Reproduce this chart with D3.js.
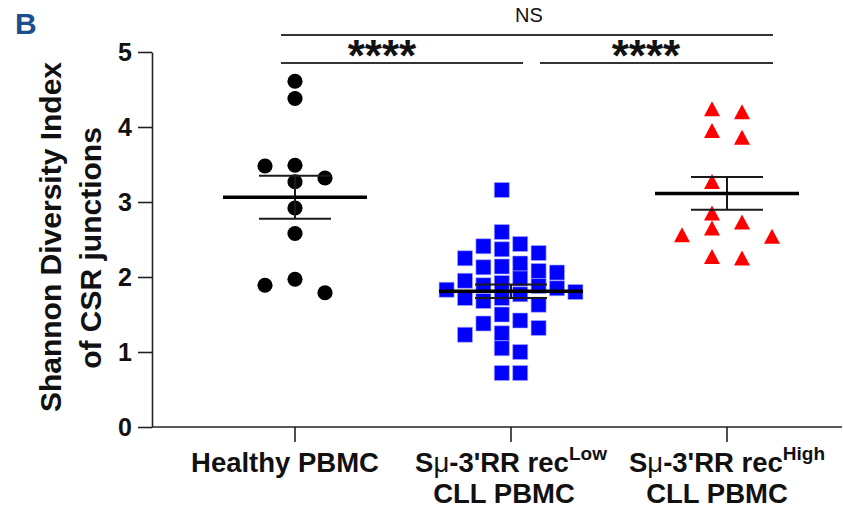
<!DOCTYPE html>
<html>
<head>
<meta charset="utf-8">
<script src="https://cdn.jsdelivr.net/npm/d3@7"></script>
<style>
  body { margin: 0; background: #fff; }
  svg { display: block; font-family: "Liberation Sans", Arial, Helvetica, sans-serif; }
</style>
</head>
<body>
<div id="chart"></div>
<script>
// data
const groups = ["healthy", "recLow", "recHigh"];
const labelMain = ["Healthy PBMC", "S\u03bc-3'RR rec", "S\u03bc-3'RR rec"];
const labelSup = ["", "Low", "High"];
const labelSecond = ["", "CLL PBMC", "CLL PBMC"];

const healthyValues = [4.61, 4.38, 3.49, 3.48, 3.32, 3.27, 2.92, 2.58, 1.97, 1.89, 1.79];
const recLowValues = [3.16, 2.60, 2.44, 2.41, 2.37, 2.32, 2.25, 2.18, 2.14, 2.13, 2.08, 2.06,
  1.98, 1.95, 1.92, 1.89, 1.88, 1.85, 1.83, 1.80, 1.77, 1.72, 1.72, 1.68, 1.63, 1.50,
  1.42, 1.38, 1.32, 1.25, 1.23, 1.05, 1.00, 0.72, 0.72];
const recHighValues = [4.24, 4.20, 3.95, 3.86, 3.27, 2.85, 2.73, 2.65, 2.56, 2.54, 2.27, 2.25];

const yTicks = [0, 1, 2, 3, 4, 5];
const compLabels = ["****", "****", "NS"];

const W = 843, H = 508;
const margin = {left: 152, top: 52, bottom: 81};

const svg = d3.select("#chart").append("svg")
  .attr("width", W).attr("height", H);

const y = d3.scaleLinear().domain([0, 5]).range([H - margin.bottom, margin.top]);
const x = d3.scaleBand().domain(groups).range([187, 835]);
const cx = g => x(g) + x.bandwidth() / 2;

const values = {healthy: healthyValues, recLow: recLowValues, recHigh: recHighValues};
// symbol + column arrangement per group
const look = {
  healthy: {fill: "#000", step: 30, half: false},
  recLow: {fill: "#0000ff", step: 18.4, half: true},
  recHigh: {fill: "#ff0000", step: 30, half: true}
};
const markSize = 15;

// simple column-scatter layout: highest first, nearest free column to the centre
function swarm(vals, step, half) {
  const slots = [];
  for (let k = -6; k <= 6; k++) slots.push(k + (half ? 0.5 : 0));
  slots.sort((a, b) => Math.abs(a) - Math.abs(b) || a - b);
  const placed = [];
  const order = vals.map((v, i) => i).sort((a, b) => vals[b] - vals[a]);
  const out = new Array(vals.length);
  order.forEach(i => {
    const py = y(vals[i]);
    const s = slots.find(sl => !placed.some(p => p.s === sl && Math.abs(p.y - py) < markSize - 0.01));
    placed.push({s: s, y: py});
    out[i] = s * step;
  });
  return out;
}

// axes
const yAxis = d3.axisLeft(y).tickValues(yTicks).tickFormat(d3.format("d"))
  .tickSize(14).tickPadding(6).tickSizeOuter(0);
const gy = svg.append("g").attr("transform", `translate(${margin.left},0)`).call(yAxis);
gy.selectAll("path, line").attr("stroke", "#222").attr("stroke-width", 1.6);
gy.selectAll("text").attr("font-size", 25).attr("font-weight", "bold").attr("fill", "#111");

const xAxis = d3.axisBottom(x).tickSize(15).tickFormat("").tickSizeOuter(0);
const gx = svg.append("g").attr("transform", `translate(0,${y(0)})`).call(xAxis);
gx.select(".domain").remove();
gx.selectAll(".tick").attr("transform", d => `translate(${cx(d)},0)`);
gx.selectAll("line").attr("stroke", "#222").attr("stroke-width", 1.6);
gx.append("line").attr("x1", margin.left).attr("x2", W - 1)
  .attr("stroke", "#222").attr("stroke-width", 1.6);

// category labels
const lab = svg.append("g").attr("font-weight", "bold").attr("font-size", 27.5)
  .attr("fill", "#111").attr("text-anchor", "middle");
const main = lab.selectAll("text.main").data(groups).join("text").attr("class", "main")
  .attr("x", (d, i) => cx(d) + (i === 0 ? -10 : 0)).attr("y", 472);
main.each(function(d, i) {
  const t = d3.select(this);
  const txt = labelMain[i];
  if (txt.indexOf("\u03bc") > 0) {
    const parts = txt.split("\u03bc");
    t.append("tspan").text(parts[0]);
    t.append("tspan").attr("font-weight", "normal").text("\u03bc");
    t.append("tspan").text(parts[1]);
  } else {
    t.text(txt);
  }
  if (labelSup[i]) t.append("tspan").attr("font-size", 19).attr("dy", -12).text(labelSup[i]);
});
lab.selectAll("text.second").data(groups.filter((d, i) => labelSecond[i]))
  .join("text").attr("class", "second")
  .attr("x", (d, i) => cx(d) - 7 - 3 * i).attr("y", 503)
  .text(d => labelSecond[groups.indexOf(d)]);

// y title
const yt = svg.append("g").attr("font-weight", "bold").attr("font-size", 30)
  .attr("fill", "#111").attr("text-anchor", "middle");
yt.append("text").attr("transform", "translate(61,237) rotate(-90)").text("Shannon Diversity Index");
yt.append("text").attr("transform", "translate(101,248) rotate(-90)").text("of CSR junctions");

// points
const tri = "M0,-7.8L8,7.2L-8,7.2Z";
const sq = "M-7.5,-7.5H7.5V7.5H-7.5Z";
groups.forEach(g => {
  const vals = values[g];
  const off = swarm(vals, look[g].step, look[g].half);
  const pts = svg.append("g").selectAll("path").data(vals).join("path")
    .attr("transform", (d, i) => `translate(${cx(g) + off[i]},${y(d)})`)
    .attr("fill", look[g].fill);
  if (g === "healthy") pts.attr("d", d3.symbol().type(d3.symbolCircle).size(Math.PI * 7.6 * 7.6));
  else if (g === "recLow") pts.attr("d", sq).attr("stroke", "#a8a8ff").attr("stroke-width", 0.6);
  else pts.attr("d", tri);
});

// mean +- SEM
groups.forEach(g => {
  const vals = values[g];
  const m = d3.mean(vals);
  const sem = d3.deviation(vals) / Math.sqrt(vals.length);
  const c = cx(g);
  const eb = svg.append("g").attr("stroke", "#1a1a1a");
  eb.append("line").attr("x1", c).attr("x2", c).attr("y1", y(m - sem)).attr("y2", y(m + sem))
    .attr("stroke-width", 2);
  [m - sem, m + sem].forEach(v => eb.append("line")
    .attr("x1", c - 36).attr("x2", c + 36).attr("y1", y(v)).attr("y2", y(v)).attr("stroke-width", 2));
  eb.append("line").attr("x1", c - 72).attr("x2", c + 72).attr("y1", y(m)).attr("y2", y(m))
    .attr("stroke-width", 3.6).attr("stroke", "#000");
});

// significance brackets
const sig = svg.append("g");
const c0 = cx(groups[0]), c1 = cx(groups[1]), c2 = cx(groups[2]);
const brackets = [
  {x1: c0 - 14, x2: c1 + 12, y: 63, tx: c0 + 87},
  {x1: c1 + 29, x2: c2 + 46, y: 63, tx: c1 + 135},
  {x1: c0 - 14, x2: c2 + 46, y: 35, tx: 529}
];
brackets.forEach((b, i) => {
  sig.append("line").attr("x1", b.x1).attr("x2", b.x2).attr("y1", b.y).attr("y2", b.y)
    .attr("stroke", "#333").attr("stroke-width", 2);
  const t = sig.append("text").attr("x", b.tx).attr("text-anchor", "middle").attr("fill", "#111")
    .text(compLabels[i]);
  if (compLabels[i] === "NS") t.attr("y", 22).attr("font-size", 20);
  else t.attr("y", 71).attr("font-size", 44).attr("font-weight", "bold");
});

// panel letter
svg.append("text").attr("x", 15).attr("y", 34).attr("font-size", 30).attr("font-weight", "bold")
  .attr("fill", "#1c4f8c").text("B");
</script>
</body>
</html>
